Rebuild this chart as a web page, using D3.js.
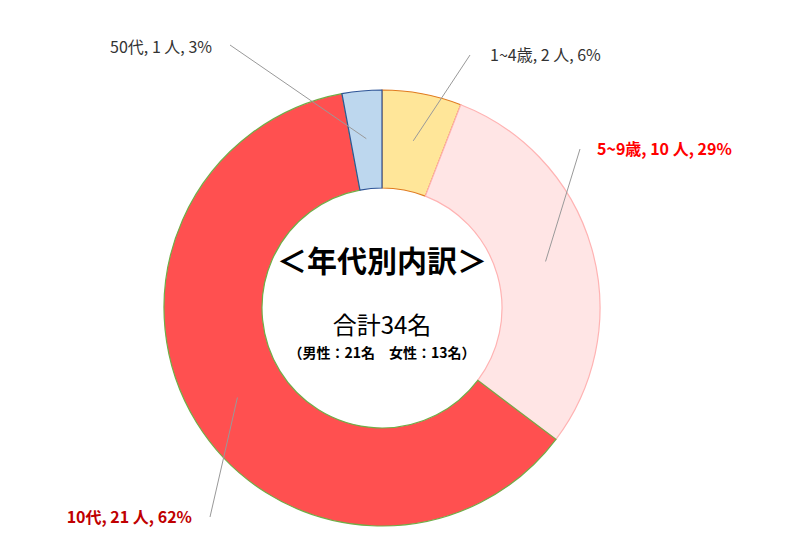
<!DOCTYPE html>
<html><head><meta charset="utf-8">
<script src="https://cdn.jsdelivr.net/npm/d3@7"></script>
<style>body{margin:0;background:#fff}text{font-family:"Noto Sans CJK JP",sans-serif}</style>
</head><body><svg id="c" width="800" height="551"></svg>
<script>
const categories=["1~4歳","5~9歳","10代","50代"];
const values=[2,10,21,1];
const percents=["6%","29%","62%","3%"];
const fills=["#FFE699","#FFE5E5","#FF5050","#BDD7EE"];
const strokes=["#E07B20","#FFB3B3","#70AD47","#2F5597"];
const labelColors=["#333","#FF0000","#C00000","#333"];
const labelPos=[[490,55,"start",470,55],[597,149,"start",580,149],[192,517,"end",210,517],[212,47,"end",230,45]];
const svg=d3.select("#c");
const cx=382,cy=308,R=218,r=120;
const g=svg.append("g").attr("transform",`translate(${cx},${cy})`);
const pie=d3.pie().sort(null)(values);
const arc=d3.arc().innerRadius(r).outerRadius(R);
const mid=d3.arc().innerRadius(R*0.78).outerRadius(R*0.78);
g.selectAll("path").data(pie).join("path").attr("d",arc)
 .attr("fill",(d,i)=>fills[i]).attr("stroke",(d,i)=>strokes[i]).attr("stroke-width",1.2);
pie.forEach((d,i)=>{
 const [x,y]=mid.centroid(d);const p=labelPos[i];
 svg.append("line").attr("x1",p[3]).attr("y1",p[4]).attr("x2",cx+x).attr("y2",cy+y).attr("stroke","#999");
 svg.append("text").attr("x",p[0]).attr("y",p[1]).attr("dy","0.35em").attr("text-anchor",p[2])
  .attr("font-size",16).attr("fill",labelColors[i]).attr("font-weight",i==1||i==2?"bold":"normal")
  .text(`${categories[i]}, ${values[i]} 人, ${percents[i]}`);
});
svg.append("text").attr("x",cx).attr("y",272).attr("text-anchor","middle").attr("font-size",30).attr("font-weight","bold").text("＜年代別内訳＞");
svg.append("text").attr("x",cx).attr("y",334).attr("text-anchor","middle").attr("font-size",24).text("合計34名");
svg.append("text").attr("x",cx).attr("y",358).attr("text-anchor","middle").attr("font-size",14).attr("font-weight","bold").text("（男性：21名　女性：13名）");
</script></body></html>
